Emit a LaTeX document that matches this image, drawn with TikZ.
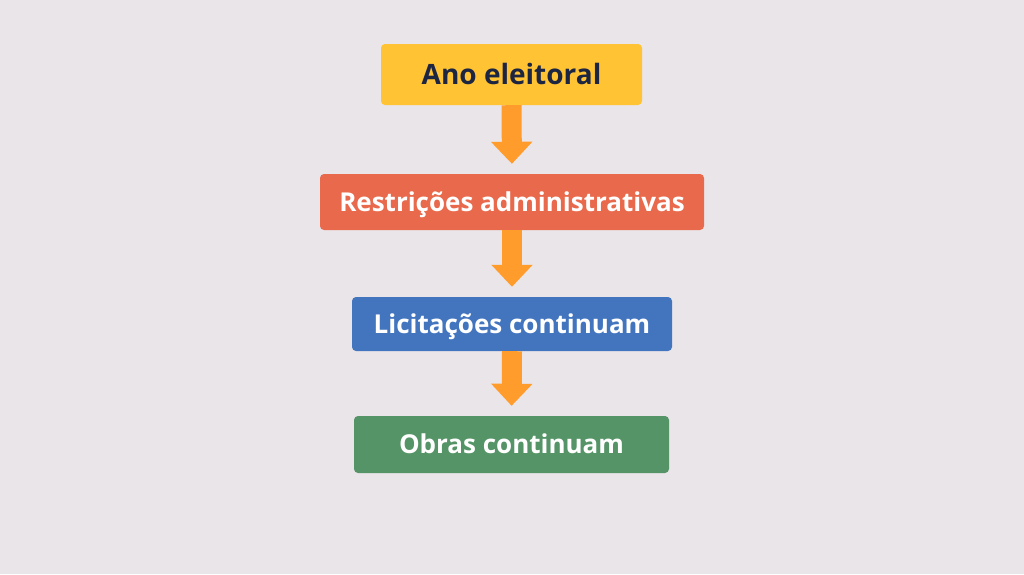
\documentclass[tikz,border=0pt]{standalone}
\usepackage{fontspec}
\setmainfont{Open Sans}
\usetikzlibrary{arrows.meta}
\definecolor{bg}{HTML}{E9E5E9}
\definecolor{cyellow}{HTML}{FFC333}
\definecolor{cred}{HTML}{E8694B}
\definecolor{cblue}{HTML}{4375BF}
\definecolor{cgreen}{HTML}{559466}
\definecolor{carrow}{HTML}{FF9C2C}
\definecolor{navy}{HTML}{1C2541}
\tikzset{
  box/.style={rounded corners=4pt, inner sep=0pt, font=\bfseries\fontsize{26}{30}\selectfont, text=white, text height=18.6pt, text depth=0pt},
  flow/.style={draw=carrow, line width=20pt, -{Triangle[width=40pt,length=22pt,fill=carrow]}, shorten >=10pt}
}
\begin{document}
\begin{tikzpicture}[x=1pt,y=-1pt]
\fill[bg] (0,0) rectangle (1024,574);
\useasboundingbox (0,0) rectangle (1024,574);
\node[box, fill=cyellow, text=navy, minimum width=261pt, minimum height=61pt, font=\bfseries\fontsize{28}{32}\selectfont, text height=20pt] (a) at (511.5,74.5) {Ano eleitoral};
\node[box, fill=cred, minimum width=384pt, minimum height=56pt] (b) at (512,202) {Restrições administrativas};
\node[box, fill=cblue, minimum width=320pt, minimum height=54pt] (c) at (512,324) {Licitações continuam};
\node[box, fill=cgreen, minimum width=315pt, minimum height=57pt] (d) at (511.5,444.5) {Obras continuam};
\draw[flow] (a.south) -- (b.north);
\draw[flow] (b.south) -- (c.north);
\draw[flow] (c.south) -- (d.north);
\end{tikzpicture}
\end{document}
